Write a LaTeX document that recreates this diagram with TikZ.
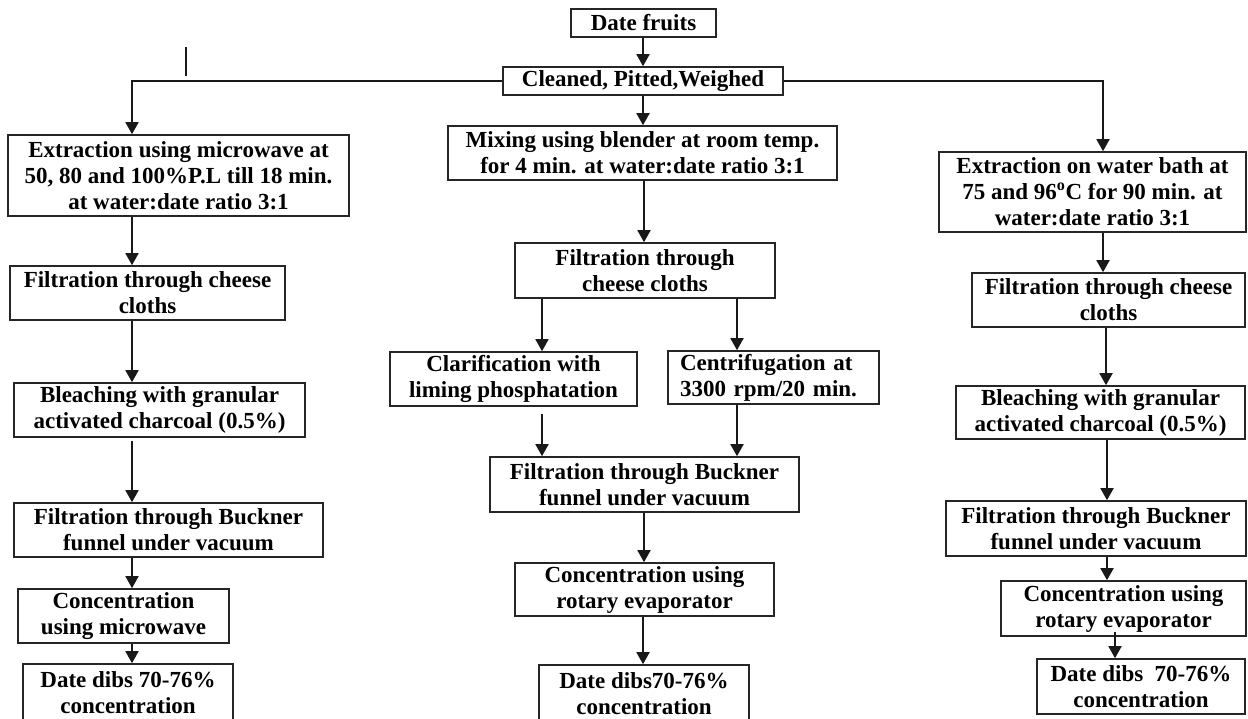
\documentclass[tikz,border=0pt]{standalone}
\usepackage{fontspec}
\setmainfont{Liberation Serif}
\usetikzlibrary{arrows.meta}
\begin{document}
\begin{tikzpicture}[x=1pt,y=-1pt,
  box/.style={draw=black!85, line width=1.6pt, align=center, inner sep=0pt,
    font=\fontsize{23}{26}\selectfont\bfseries},
  arr/.style={draw=black!90, line width=1.8pt, -{Triangle[width=13pt,length=12pt]}},
  plain/.style={draw=black!75, line width=1.5pt}]
\clip (0,0) rectangle (1248,719);
\fill[white] (0,0) rectangle (1248,719);
% top
\node[box, minimum width=145, minimum height=28] (df) at (643.5,23) {Date fruits};
\node[box, minimum width=280, minimum height=28] (cpw) at (643,81) {Cleaned, Pitted,Weighed};
% left column
\node[box, minimum width=341, minimum height=81] (ext1) at (178.5,175.5) {Extraction using microwave at\\50, 80 and 100\%P.L till 18 min.\\at water:date ratio 3:1};
\node[box, minimum width=275, minimum height=54] (fc1) at (147.5,293) {Filtration through cheese\\cloths};
\node[box, minimum width=291, minimum height=54] (bl1) at (159.5,410) {Bleaching with granular\\activated charcoal (0.5\%)};
\node[box, minimum width=309, minimum height=54] (bu1) at (168.5,530) {Filtration through Buckner\\funnel under vacuum};
\node[box, minimum width=211, minimum height=54] (co1) at (123.5,616) {Concentration\\using microwave};
\node[box, minimum width=210, minimum height=58] (dd1) at (128,693) {Date dibs 70-76\%\\concentration};
% middle column
\node[box, minimum width=389, minimum height=54] (mix) at (642.5,153) {Mixing using blender at room temp.\\for 4 min. at water:date ratio 3:1};
\node[box, minimum width=260, minimum height=55] (fc2) at (645,270.5) {Filtration through\\cheese cloths};
\node[box, minimum width=247, minimum height=54] (clar) at (513.5,379) {Clarification with\\liming phosphatation};
\node[box, minimum width=211, minimum height=53, text width=187, align=left] (cent) at (773.5,377.5) {Centrifugation at\\3300 rpm/20 min.};
\node[box, minimum width=309, minimum height=55] (bu2) at (644.5,484.5) {Filtration through Buckner\\funnel under vacuum};
\node[box, minimum width=259, minimum height=53] (co2) at (644.5,589.5) {Concentration using\\rotary evaporator};
\node[box, minimum width=210, minimum height=58] (dd2) at (644,694) {Date dibs70-76\%\\concentration};
% right column
\node[box, minimum width=307, minimum height=80] (ext3) at (1092.5,192) {Extraction on water bath at\\75 and 96\textsuperscript{o}C for 90 min. at\\water:date ratio 3:1};
\node[box, minimum width=273, minimum height=54] (fc3) at (1108.5,300) {Filtration through cheese\\cloths};
\node[box, minimum width=289, minimum height=53] (bl3) at (1100.5,412.5) {Bleaching with granular\\activated charcoal (0.5\%)};
\node[box, minimum width=300, minimum height=55] (bu3) at (1096,528.5) {Filtration through Buckner\\funnel under vacuum};
\node[box, minimum width=245, minimum height=55] (co3) at (1123.5,608.5) {Concentration using\\rotary evaporator};
\node[box, minimum width=208, minimum height=55] (dd3) at (1141,686.5) {Date dibs~~70-76\%\\concentration};
% arrow x positions
\coordinate (xl) at (132,0);
\coordinate (xm) at (643,0);
\coordinate (xm2) at (644,0);
\coordinate (xa) at (542,0);
\coordinate (xb) at (737,0);
\coordinate (xr) at (1103,0);
\coordinate (xr2) at (1106,0);
\coordinate (xr3) at (1107,0);
\coordinate (xr4) at (1115,0);
% stray mark
\draw[line width=2.4pt, black!90] (186,47) -- (186,76);
% connectors
\draw[arr] (df.south -| xm) -- (cpw.north -| xm);
\draw[arr] (cpw.south -| xm) -- (mix.north -| xm);
\draw[arr] (cpw.west) -| (ext1.north -| xl);
\draw[arr] (cpw.east) -| (ext3.north -| xr);
\draw[arr] (ext1.south -| xl) -- (fc1.north -| xl);
\draw[arr] (fc1.south -| xl) -- (bl1.north -| xl);
\draw[arr, shorten <=3pt] (bl1.south -| xl) -- (bu1.north -| xl);
\draw[arr] (bu1.south -| xl) -- (co1.north -| xl);
\draw[arr] (co1.south -| xl) -- (dd1.north -| xl);
\draw[arr] (mix.south -| xm2) -- (fc2.north -| xm2);
\draw[arr] (fc2.south -| xa) -- (clar.north -| xa);
\draw[arr] (fc2.south -| xb) -- (cent.north -| xb);
\draw[arr, shorten <=7pt] (clar.south -| xa) -- (bu2.north -| xa);
\draw[arr] (cent.south -| xb) -- (bu2.north -| xb);
\draw[arr] (bu2.south -| xm2) -- (co2.north -| xm2);
\draw[arr] (co2.south -| xm) -- (dd2.north -| xm);
\draw[arr] (ext3.south -| xr) -- (fc3.north -| xr);
\draw[arr] (fc3.south -| xr2) -- (bl3.north -| xr2);
\draw[arr] (bl3.south -| xr3) -- (bu3.north -| xr3);
\draw[arr] (bu3.south -| xr3) -- (co3.north -| xr3);
\draw[arr, shorten <=-5pt] (co3.south -| xr4) -- (dd3.north -| xr4);
\end{tikzpicture}
\end{document}
